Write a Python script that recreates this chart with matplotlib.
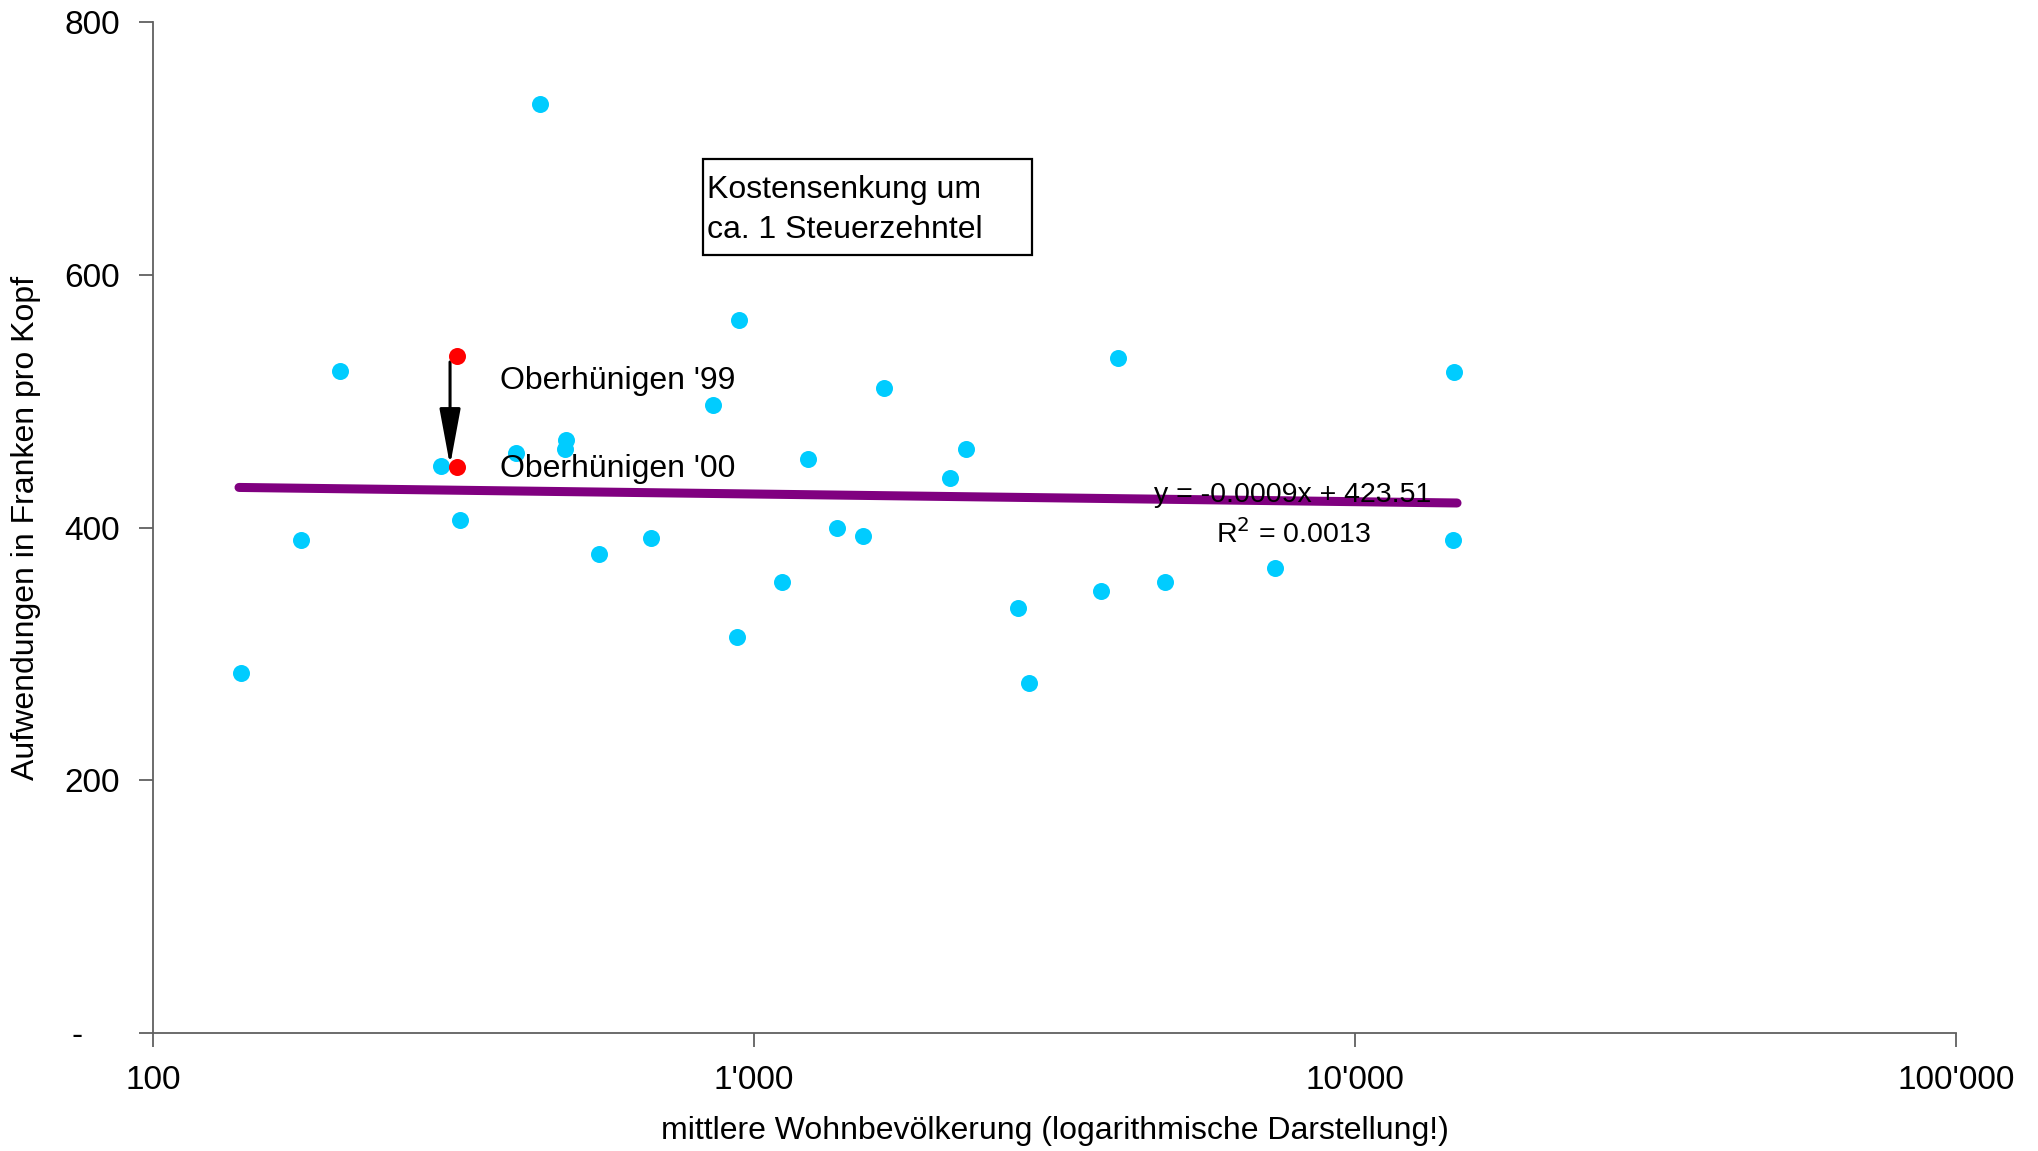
import matplotlib
matplotlib.use("Agg")
import matplotlib.pyplot as plt
from matplotlib.patches import Rectangle

plt.rcParams["font.family"] = ["Liberation Sans", "DejaVu Sans"]

# Gemeinden: mittlere Wohnbevoelkerung und Aufwendungen pro Kopf
einwohner = [140, 176, 205, 301, 324, 401, 441, 487, 485, 552, 674, 856,
             936, 945, 1114, 1231, 1373, 1518, 1643, 2118, 2249, 2745, 2871,
             3776, 4027, 4819, 7357, 14560, 14630]
aufwand = [285, 390, 524, 449, 406, 459, 735, 469, 462, 379, 392, 497,
           313, 564, 357, 454, 400, 393, 510, 439, 462, 336, 277,
           350, 534, 357, 368, 390, 523]

# Oberhuenigen 1999 und 2000
oh_einwohner = [321, 321]
oh_aufwand = [536, 448]

# Trendlinie (Endpunkte wie im Original gezeichnet)
trend_x = [139, 14780]
trend_y = [431.7, 419.4]

y_ticks = [0, 200, 400, 600, 800]
y_labels = ["-    ", "200", "400", "600", "800"]
x_ticks = [100, 1000, 10000, 100000]
x_labels = ["100", "1'000", "10'000", "100'000"]

fig = plt.figure(figsize=(20.38, 11.51), dpi=100)
ax = fig.add_axes([0.0751, 0.1025, 0.8847, 0.8784])

ax.scatter(einwohner, aufwand, s=150, color="#00CCFF", zorder=3, linewidths=0)
ax.scatter(oh_einwohner, oh_aufwand, s=150, color="#FF0000", zorder=4, linewidths=0)
ax.plot(trend_x, trend_y, color="#800080", lw=6.5, solid_capstyle="round", zorder=2)

ax.set_xscale("log")
ax.set_xlim(100, 100000)
ax.set_ylim(0, 800)
ax.set_xticks(x_ticks)
ax.set_xticklabels(x_labels)
ax.minorticks_off()
ax.set_yticks(y_ticks)
ax.set_yticklabels(y_labels)

for side in ["top", "right"]:
    ax.spines[side].set_visible(False)
for side in ["left", "bottom"]:
    ax.spines[side].set_color("#606060")
    ax.spines[side].set_linewidth(1.3)
ax.tick_params(axis="both", direction="out", length=10, width=1.3, color="#606060",
               labelsize=24, labelcolor="black")
ax.tick_params(axis="y", pad=14)
ax.tick_params(axis="x", pad=13)

ax.set_ylabel("Aufwendungen in Franken pro Kopf", fontsize=23, va="center")
ax.yaxis.set_label_coords(-0.0704, 0.5)
ax.set_xlabel("mittlere Wohnbevölkerung (logarithmische Darstellung!)", fontsize=23,
              va="center")
ax.xaxis.set_label_coords(0.5, -0.097)

# Pfeil von '99 nach '00
ax.annotate("", xy=(312, 449), xytext=(312, 531),
            arrowprops=dict(arrowstyle="-|>,head_length=3.5,head_width=0.65",
                            color="black", lw=2.2, shrinkA=0, shrinkB=0))
ax.text(378, 516, "Oberhünigen '99", fontsize=23, va="center", ha="left")
ax.text(378, 446, "Oberhünigen '00", fontsize=23, va="center", ha="left")

# Regressionsgleichung
ax.text(7884, 426, "y = -0.0009x + 423.51", fontsize=20.5, ha="center", va="center")
ax.text(7884, 395, "R$^2$ = 0.0013", fontsize=20.5, ha="center", va="center")

# Kommentarbox
ax.add_patch(Rectangle((0.305, 0.7695), 0.1825, 0.095, transform=ax.transAxes,
                       fill=False, edgecolor="black", lw=1.6, zorder=5))
ax.text(0.3073, 0.8338, "Kostensenkung um", transform=ax.transAxes,
        fontsize=23, va="center", ha="left")
ax.text(0.3073, 0.7943, "ca. 1 Steuerzehntel", transform=ax.transAxes,
        fontsize=23, va="center", ha="left")

fig.savefig("out.png", dpi=100)
